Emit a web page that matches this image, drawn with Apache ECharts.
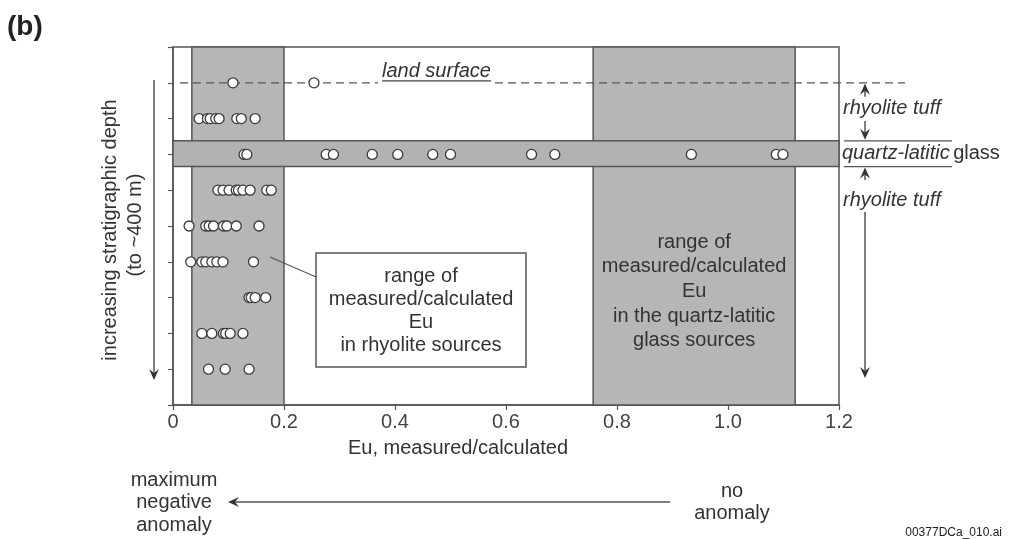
<!DOCTYPE html>
<html>
<head>
<meta charset="utf-8">
<script src="https://cdn.jsdelivr.net/npm/echarts@6/dist/echarts.min.js"></script>
<style>
  html, body { margin: 0; padding: 0; background: #ffffff; }
  #chart { width: 1011px; height: 539px; }
</style>
</head>
<body>
<div id="chart"></div>
<script>
// Eu ratio (measured/calculated) per stratigraphic level, top to bottom
const levels = [1, 2, 3, 4, 5, 6, 7, 8, 9];
const euLandSurface = [0.108, 0.254];
const euUpperTuff = [0.047, 0.062, 0.067, 0.077, 0.083, 0.115, 0.123, 0.148];
const euGlass = [0.128, 0.133, 0.276, 0.289, 0.359, 0.405, 0.468, 0.500, 0.646, 0.688, 0.934, 1.087, 1.099];
const euTuff4 = [0.081, 0.090, 0.101, 0.114, 0.118, 0.126, 0.139, 0.169, 0.177];
const euTuff5 = [0.029, 0.059, 0.065, 0.073, 0.091, 0.097, 0.114, 0.155];
const euTuff6 = [0.032, 0.052, 0.059, 0.070, 0.079, 0.090, 0.145];
const euTuff7 = [0.137, 0.141, 0.148, 0.167];
const euTuff8 = [0.052, 0.070, 0.091, 0.095, 0.103, 0.126];
const euTuff9 = [0.064, 0.094, 0.137];
const levelValues = [euLandSurface, euUpperTuff, euGlass, euTuff4, euTuff5, euTuff6, euTuff7, euTuff8, euTuff9];

// source ranges and glass layer extent
const rhyoliteRange = [0.034, 0.200];
const glassRange = [0.757, 1.121];
const glassLayer = [2.62, 3.34];

const xTickLabels = ['0', '0.2', '0.4', '0.6', '0.8', '1.0', '1.2'];
const xMin = 0, xMax = 1.2, xStep = 0.2;
const yMin = 0, yMax = 10;

const FONT = '"Liberation Sans", Arial, Helvetica, sans-serif';
const INK = '#333333';
const LINE = '#555555';
const FILL = '#b6b6b6';

const points = [];
levels.forEach((lvl, i) => levelValues[i].forEach(v => points.push([v, lvl])));

const chart = echarts.init(document.getElementById('chart'), null, { renderer: 'canvas' });

chart.setOption({
  animation: false,
  backgroundColor: '#ffffff',
  grid: {
    left: 173, right: 172, top: 47, bottom: 134,
    show: true, borderColor: LINE, borderWidth: 1.5, backgroundColor: 'transparent'
  },
  xAxis: {
    type: 'value', min: xMin, max: xMax, interval: xStep,
    axisLine: { show: true, onZero: false, lineStyle: { color: LINE, width: 1.5 } },
    axisTick: { show: true, inside: false, length: 5, lineStyle: { color: LINE, width: 1.2 } },
    axisLabel: {
      margin: 7, color: '#444', fontSize: 20, fontFamily: FONT,
      formatter: v => xTickLabels[Math.round((v - xMin) / xStep)]
    },
    splitLine: { show: false }
  },
  yAxis: {
    type: 'value', min: yMin, max: yMax, interval: 1, inverse: true,
    axisLine: { show: true, onZero: false, lineStyle: { color: LINE, width: 1.5 } },
    axisTick: { show: true, inside: false, length: 5, lineStyle: { color: LINE, width: 1.2 } },
    axisLabel: { show: false },
    splitLine: { show: false }
  },
  series: [
    {
      name: 'source ranges', type: 'scatter', data: [], z: 1, silent: true,
      markArea: {
        silent: true,
        itemStyle: { color: FILL, borderColor: LINE, borderWidth: 1.5 },
        data: [
          [{ xAxis: rhyoliteRange[0], yAxis: yMin }, { xAxis: rhyoliteRange[1], yAxis: yMax }],
          [{ xAxis: glassRange[0], yAxis: yMin }, { xAxis: glassRange[1], yAxis: yMax }]
        ]
      }
    },
    {
      name: 'glass layer', type: 'scatter', data: [], z: 2, silent: true,
      markArea: {
        silent: true,
        itemStyle: { color: '#b2b2b2', borderColor: LINE, borderWidth: 1.5 },
        data: [[{ xAxis: xMin, yAxis: glassLayer[0] }, { xAxis: xMax, yAxis: glassLayer[1] }]]
      }
    },
    {
      name: 'Eu', type: 'scatter', z: 5, silent: true,
      symbol: 'circle', symbolSize: 10,
      itemStyle: { color: '#ffffff', borderColor: '#3a3a3a', borderWidth: 1.3, opacity: 1 },
      data: points
    }
  ]
});

// annotations placed from the axes' own scales
const px = (x, y) => chart.convertToPixel({ gridIndex: 0 }, [x, y]);
const [gx0, gyTop] = px(xMin, yMin);
const [gx1, gyBot] = px(xMax, yMax);
const yLand = px(0, 1)[1];
const yBandTop = px(0, glassLayer[0])[1];
const yBandBot = px(0, glassLayer[1])[1];
const yGlass = px(0, 3)[1];
const glassMidX = px((glassRange[0] + glassRange[1]) / 2, 0)[0];

function txt(x, y, s, opts, rot) {
  return {
    type: 'text', x: x, y: y, rotation: rot || 0, silent: true, z: 20,
    style: Object.assign({
      text: s, fill: INK, font: '20px ' + FONT,
      align: 'left', verticalAlign: 'middle'
    }, opts || {})
  };
}
function seg(x1, y1, x2, y2, extra, z) {
  return {
    type: 'line', silent: true, z: z || 15,
    shape: { x1: x1, y1: y1, x2: x2, y2: y2 },
    style: Object.assign({ stroke: LINE, lineWidth: 1.5 }, extra || {})
  };
}
// notched arrow head; dir: 'up' | 'down' | 'left'
function head(x, y, dir) {
  const L = 11, W = 5, N = 7;
  let pts;
  if (dir === 'up') pts = [[x, y], [x - W, y + L], [x, y + N], [x + W, y + L]];
  else if (dir === 'down') pts = [[x, y], [x - W, y - L], [x, y - N], [x + W, y - L]];
  else pts = [[x, y], [x + L, y - W], [x + N, y], [x + L, y + W]];
  return { type: 'polygon', silent: true, z: 16, shape: { points: pts }, style: { fill: '#333' } };
}

const ax = gx1 + 26;           // right-hand annotation arrow
const lx = gx1 + 4;            // right-hand label start
const ital = 'italic 20px ' + FONT;
const landTextX = 382, landTextW = 109;

const graphics = [
  // panel tag
  txt(7, 27, '(b)', { font: 'bold 28px ' + FONT, fill: '#222' }),

  // land surface (drawn beneath the sample circles)
  seg(gx0 + 7, yLand, landTextX - 4, yLand, { lineDash: [8, 5], lineWidth: 1.3 }, 3),
  seg(landTextX + landTextW + 4, yLand, 905, yLand, { lineDash: [8, 5], lineWidth: 1.3 }, 3),
  txt(landTextX, yLand - 11, 'land surface', { font: ital }),
  seg(landTextX, yLand - 2, landTextX + landTextW, yLand - 2, { lineWidth: 1.2, stroke: '#444' }),

  // right-hand stratigraphic labels
  seg(ax, yLand + 2, ax, yLand + 14), head(ax, yLand + 1, 'up'),
  txt(lx, 108, 'rhyolite tuff', { font: ital }),
  seg(ax, 121, ax, yBandTop - 3), head(ax, yBandTop - 1, 'down'),
  seg(lx + 1, yBandTop, lx + 109, yBandTop, { lineWidth: 1.3 }),
  seg(lx + 1, yBandBot, lx + 109, yBandBot, { lineWidth: 1.3 }),
  {
    type: 'text', x: lx - 1, y: yGlass - 1, silent: true, z: 20,
    style: {
      text: '{i|quartz-latitic} {n|glass}', verticalAlign: 'middle', align: 'left',
      rich: {
        i: { font: ital, fill: INK },
        n: { font: '20px ' + FONT, fill: INK }
      }
    }
  },
  seg(ax, yBandBot + 3, ax, 180), head(ax, yBandBot + 1, 'up'),
  txt(lx, 200, 'rhyolite tuff', { font: ital }),
  seg(ax, 212, ax, 375), head(ax, 378, 'down'),

  // depth axis
  txt(110, 230, 'increasing stratigraphic depth', { align: 'center' }, Math.PI / 2),
  txt(135, 225, '(to ~400 m)', { align: 'center' }, Math.PI / 2),
  seg(154, 80, 154, 376), head(154, 380, 'down'),

  // rhyolite source callout
  seg(270, 257, 316, 277, { lineWidth: 1.2 }),
  {
    type: 'rect', silent: true, z: 14,
    shape: { x: 316, y: 253, width: 210, height: 114 },
    style: { fill: '#ffffff', stroke: LINE, lineWidth: 1.5 }
  },
  txt(421, 276, 'range of', { align: 'center' }),
  txt(421, 299, 'measured/calculated', { align: 'center' }),
  txt(421, 322, 'Eu', { align: 'center' }),
  txt(421, 345, 'in rhyolite sources', { align: 'center' }),

  // glass source range label
  txt(glassMidX, 242, 'range of', { align: 'center' }),
  txt(glassMidX, 266, 'measured/calculated', { align: 'center' }),
  txt(glassMidX, 291, 'Eu', { align: 'center' }),
  txt(glassMidX, 316, 'in the quartz-latitic', { align: 'center' }),
  txt(glassMidX, 340, 'glass sources', { align: 'center' }),

  // x axis title
  txt(458, 448, 'Eu, measured/calculated', { align: 'center' }),

  // anomaly direction
  seg(232, 502, 670, 502), head(228, 502, 'left'),
  txt(174, 480, 'maximum', { align: 'center' }),
  txt(174, 502, 'negative', { align: 'center' }),
  txt(174, 525, 'anomaly', { align: 'center' }),
  txt(732, 491, 'no', { align: 'center' }),
  txt(732, 513, 'anomaly', { align: 'center' }),

  txt(1002, 533, '00377DCa_010.ai', { align: 'right', font: '12px ' + FONT, fill: '#222' })
];

chart.setOption({ graphic: { elements: graphics } });
</script>
</body>
</html>
